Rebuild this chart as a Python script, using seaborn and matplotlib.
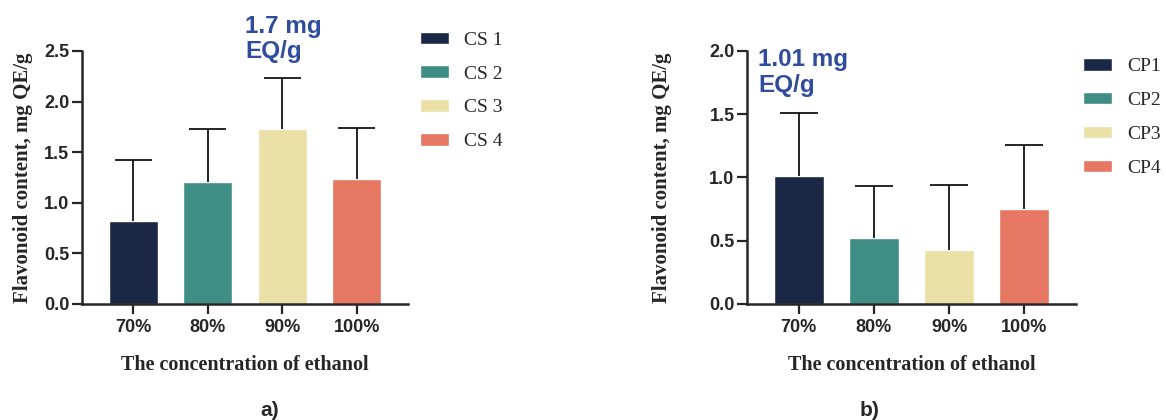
import matplotlib
matplotlib.use("Agg")
import matplotlib.pyplot as plt
import seaborn as sns
import numpy as np
import pandas as pd

concentrations = ['70%', '80%', '90%', '100%']

samples_a = ['CS 1', 'CS 2', 'CS 3', 'CS 4']
values_a = [0.82, 1.21, 1.73, 1.24]
errors_a = [0.60, 0.52, 0.50, 0.50]

samples_b = ['CP1', 'CP2', 'CP3', 'CP4']
values_b = [1.01, 0.52, 0.43, 0.75]
errors_b = [0.50, 0.41, 0.51, 0.51]

colors = ['#1b2845', '#3e8e86', '#ebe0a6', '#e67763']
blue_txt = '#2f4d9c'

sns.set_style('ticks')
plt.rcParams['font.family'] = ['Liberation Sans', 'DejaVu Sans']

fig = plt.figure(figsize=(11.66, 4.2), dpi=100)
ax_a = fig.add_axes([0.0703, 0.2762, 0.2796, 0.6024])
ax_b = fig.add_axes([0.6407, 0.2762, 0.2821, 0.6024])

serif = ['Liberation Serif', 'DejaVu Serif']


def panel(ax, samples, values, errors, ymax, ylab_x, note, note_xy, note_size, leg_xy):
    df = pd.DataFrame({'conc': concentrations, 'val': values, 'sample': samples})
    sns.barplot(data=df, x='conc', y='val', hue='sample', hue_order=samples,
                palette=colors, width=0.66, dodge=False, saturation=1,
                ax=ax)
    xs = np.asarray(ax.get_xticks(), dtype=float)
    tops = [v + e for v, e in zip(values, errors)]
    ax.vlines(xs, values, tops, color='black', lw=1.2, zorder=3)
    ax.hlines(tops, xs - 0.25, xs + 0.25, color='black', lw=1.2, zorder=3)

    ax.set_xlim(-0.69, 3.69)
    ax.set_ylim(0, ymax)
    ax.set_yticks([i * 0.5 for i in range(int(ymax / 0.5) + 1)])
    ax.set_yticklabels([f'{i * 0.5:.1f}' for i in range(int(ymax / 0.5) + 1)])
    sns.despine(ax=ax)
    for s in ['left', 'bottom']:
        ax.spines[s].set_linewidth(1.8)
    ax.tick_params(axis='both', length=7, width=1.6, labelsize=13)
    ax.tick_params(axis='x', pad=4)
    ax.tick_params(axis='y', pad=2)
    for t in ax.get_xticklabels() + ax.get_yticklabels():
        t.set_fontweight('bold')

    ax.set_ylabel('Flavonoid content, mg QE/g', family=serif, fontweight='bold',
                  fontsize=15)
    ax.yaxis.set_label_coords(ylab_x, 0.5)
    ax.set_xlabel('The concentration of ethanol', family=serif, fontweight='bold',
                  fontsize=14.5)
    ax.xaxis.set_label_coords(0.5, -0.20)

    ax.text(note_xy[0], note_xy[1], note, transform=ax.transData, color=blue_txt,
            fontsize=note_size, fontweight='bold', ha='left', va='top',
            linespacing=1.15, clip_on=False)

    handles, labels = ax.get_legend_handles_labels()
    ax.legend(handles, labels, loc='upper left', bbox_to_anchor=leg_xy,
              bbox_transform=fig.transFigure, frameon=False, borderpad=0,
              borderaxespad=0, handlelength=1.5, handleheight=0.62,
              handletextpad=0.77, labelspacing=0.86,
              prop={'family': serif, 'size': 14})


panel(ax_a, samples_a, values_a, errors_a, 2.5, -0.150, '1.7 mg\nEQ/g',
      (1.5, 2.86), 17.5, (0.360, 0.925))
panel(ax_b, samples_b, values_b, errors_b, 2.0, -0.228, '1.01 mg\nEQ/g',
      (-0.54, 2.02), 17.5, (0.9288, 0.862))

fig.text(270 / 1166, 1 - 410 / 420, 'a)', fontsize=15, fontweight='bold', ha='center', va='center')
fig.text(870 / 1166, 1 - 410 / 420, 'b)', fontsize=15, fontweight='bold', ha='center', va='center')

fig.savefig('out.png', dpi=100)
